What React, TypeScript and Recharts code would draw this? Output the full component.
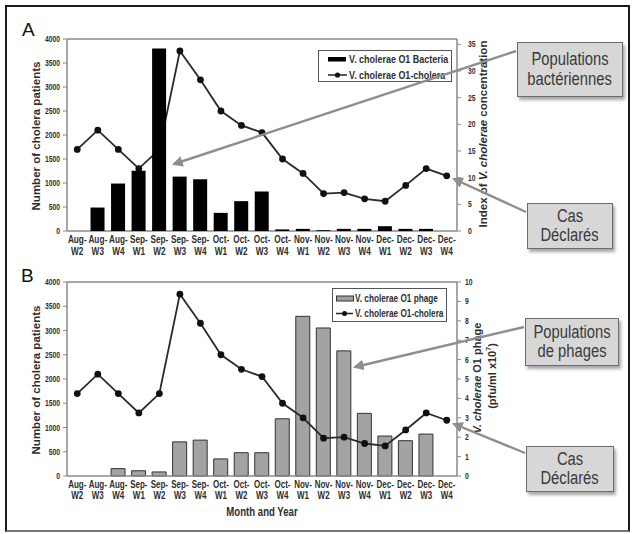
import React from 'react';
import { ComposedChart, Bar, Line, XAxis, YAxis, Legend, ReferenceLine, Label } from 'recharts';

const weeks = ['Aug-W2','Aug-W3','Aug-W4','Sep-W1','Sep-W2','Sep-W3','Sep-W4','Oct-W1','Oct-W2','Oct-W3','Oct-W4','Nov-W1','Nov-W2','Nov-W3','Nov-W4','Dec-W1','Dec-W2','Dec-W3','Dec-W4'];
const choleraPatients = [1700, 2100, 1700, 1300, 1700, 3750, 3150, 2500, 2200, 2050, 1500, 1200, 780, 800, 670, 620, 950, 1300, 1150];
const bacteriaIndex = [0, 4.4, 8.9, 11.3, 34.2, 10.2, 9.7, 3.4, 5.6, 7.4, 0.3, 0.4, 0.15, 0.4, 0.4, 0.9, 0.4, 0.4, 0];
const phageCount = [0, 0, 0.38, 0.27, 0.21, 1.76, 1.85, 0.88, 1.2, 1.2, 2.95, 8.23, 7.63, 6.45, 3.23, 2.06, 1.82, 2.16, 0];
const patientTicks = [0, 500, 1000, 1500, 2000, 2500, 3000, 3500, 4000];
const bacteriaTicks = [0, 5, 10, 15, 20, 25, 30, 35];
const phageTicks = [0, 1, 2, 3, 4, 5, 6, 7, 8, 9, 10];

const dataA = weeks.map((w, i) => ({ week: w, patients: choleraPatients[i], bacteria: bacteriaIndex[i] }));
const dataB = weeks.map((w, i) => ({ week: w, patients: choleraPatients[i], phage: phageCount[i] }));

const SANS = "'Liberation Sans', Arial, sans-serif";
const SX = 0.8;
const AXIS = '#8a8a8a';
const TXT = '#2e2e2e';

// horizontally condensed svg text
const NText = ({ x, y, anchor = 'start', fs, weight = 'bold', children }: any) => (
  <g transform={`translate(${x},${y}) scale(${SX},1)`}>
    <text x={0} y={0} textAnchor={anchor} fontSize={fs} fontWeight={weight} fill={TXT} fontFamily={SANS}>{children}</text>
  </g>
);

const makeCatTick = (d1: number, d2: number, fs: number) => (props: any) => {
  const { x, y, payload } = props;
  const [m, w] = String(payload.value).split('-');
  return (
    <g>
      <NText x={x} y={y + d1} anchor="middle" fs={fs}>{m}-</NText>
      <NText x={x} y={y + d1 + d2} anchor="middle" fs={fs}>{w}</NText>
    </g>
  );
};

const makeNumTick = (anchor: string) => (props: any) => {
  const { x, y, payload } = props;
  return <NText x={x} y={y + 3} anchor={anchor} fs={8.5}>{payload.value}</NText>;
};
const LeftNumTick = makeNumTick('end');
const RightNumTick = makeNumTick('start');

const Dot = (props: any) => {
  const { cx, cy } = props;
  if (cx == null || cy == null) return null;
  return <circle cx={cx} cy={cy} r={3.4} fill="#111" stroke="none" />;
};

const LeftLabel = (props: any) => {
  const vb = props.viewBox || {};
  const cx = 35.5;
  const cy = vb.y + vb.height / 2 + 1;
  return (
    <text x={cx} y={cy} transform={`rotate(-90 ${cx} ${cy})`} textAnchor="middle" dominantBaseline="central"
      fontSize={11.5} fontWeight="bold" fill={TXT} fontFamily={SANS}>Number of cholera patients</text>
  );
};

const RightLabelA = (props: any) => {
  const vb = props.viewBox || {};
  const cx = 482.5;
  const cy = vb.y + vb.height / 2 - 1;
  return (
    <text x={cx} y={cy} transform={`rotate(-90 ${cx} ${cy})`} textAnchor="middle" dominantBaseline="central"
      fontSize={11.5} fontWeight="bold" fill={TXT} fontFamily={SANS}>
      Index of <tspan fontStyle="italic">V. cholerae</tspan> concentration
    </text>
  );
};

const RightLabelB = (props: any) => {
  const vb = props.viewBox || {};
  const cy = vb.y + vb.height / 2 - 3;
  const x1 = 477, x2 = 491.5;
  return (
    <g>
      <text x={x1} y={cy + 2} transform={`rotate(-90 ${x1} ${cy + 2})`} textAnchor="middle" dominantBaseline="central"
        fontSize={11} fontWeight="bold" fill={TXT} fontFamily={SANS}>
        <tspan fontStyle="italic">V. cholerae</tspan> O1 phage
      </text>
      <text x={x2} y={cy} transform={`rotate(-90 ${x2} ${cy})`} textAnchor="middle" dominantBaseline="central"
        fontSize={11} fontWeight="bold" fill={TXT} fontFamily={SANS}>
        (pfu/ml x10<tspan dy={-4} fontSize={7}>7</tspan><tspan dy={4}>)</tspan>
      </text>
    </g>
  );
};

const XLabelB = (props: any) => {
  const vb = props.viewBox || {};
  const cx = vb.x + vb.width / 2;
  return <NText x={cx} y={251} anchor="middle" fs={12}>Month and Year</NText>;
};

const LegendA = () => (
  <svg width={134} height={32} style={{ display: 'block' }}>
    <rect x={0.5} y={0.5} width={133} height={31} fill="#fff" stroke="#555" />
    <rect x={10} y={7} width={18} height={4.5} fill="#000" />
    <NText x={31} y={12.8} fs={11.2}>V. cholerae O1 Bacteria</NText>
    <line x1={10} y1={25} x2={29} y2={25} stroke="#222" strokeWidth={1.5} />
    <circle cx={19.5} cy={25} r={2.6} fill="#111" />
    <NText x={31} y={28.8} fs={11.2}>V. cholerae O1-cholera</NText>
  </svg>
);

const LegendB = () => (
  <svg width={115} height={34} style={{ display: 'block' }}>
    <rect x={0.5} y={0.5} width={114} height={33} fill="#fff" stroke="#555" />
    <rect x={4.5} y={8} width={17} height={5} fill="#a0a0a0" stroke="#333" />
    <NText x={23} y={13.8} fs={10.3}>V. cholerae O1 phage</NText>
    <line x1={4} y1={25.5} x2={21} y2={25.5} stroke="#222" strokeWidth={1.5} />
    <circle cx={12.5} cy={25.5} r={2.5} fill="#111" />
    <NText x={23} y={29} fs={10.3}>V. cholerae O1-cholera</NText>
  </svg>
);

const calloutStyle = (left: number, top: number, width: number, height: number): React.CSSProperties => ({
  position: 'absolute', left, top, width, height, boxSizing: 'border-box',
  background: '#d7d7d7', border: '1.5px solid #6c6c6c', boxShadow: '2px 3px 3px rgba(0,0,0,0.35)',
  display: 'flex', flexDirection: 'column', alignItems: 'center', justifyContent: 'center',
  fontFamily: SANS, fontSize: 18, lineHeight: '19.5px', color: '#3a3a3a', textAlign: 'center', whiteSpace: 'nowrap',
});
const cLine: React.CSSProperties = { display: 'block', transform: `scaleX(${SX + 0.02})` };

const Arrow = ({ x1, y1, x2, y2 }: { x1: number; y1: number; x2: number; y2: number }) => (
  <line x1={x1} y1={y1} x2={x2} y2={y2} stroke="#8e8e8e" strokeWidth={2.4} markerEnd="url(#ah)" />
);

const marginA = { top: 39, right: 137, bottom: 0, left: 0 };

export default function App() {
  return (
    <div style={{ position: 'absolute', left: 0, top: 0, width: 634, height: 534, background: '#fff', overflow: 'hidden' }}>
      <div style={{ position: 'absolute', left: 5, top: 5, width: 625, height: 527, boxSizing: 'border-box', border: '2px solid #1a1a1a', borderBottomColor: '#777' }} />
      <div style={{ position: 'absolute', left: 22, top: 19, fontFamily: SANS, fontSize: 19, lineHeight: '22px', color: '#111' }}>A</div>
      <div style={{ position: 'absolute', left: 21, top: 265, fontFamily: SANS, fontSize: 19, lineHeight: '22px', color: '#111' }}>B</div>

      {/* Panel A: axes + line (line sits behind the bars) */}
      <div style={{ position: 'absolute', left: 0, top: 0 }}>
        <ComposedChart width={634} height={265} data={dataA} margin={marginA}>
          <XAxis dataKey="week" interval={0} tick={makeCatTick(12, 12.4, 10.3)} tickLine={false} tickSize={0} tickMargin={0}
            axisLine={{ stroke: AXIS, strokeWidth: 1.5 }} height={34} />
          <YAxis yAxisId="left" width={67} domain={[0, 4000]} ticks={patientTicks} interval={0} tick={LeftNumTick}
            tickSize={4} tickMargin={3} tickLine={{ stroke: AXIS }} axisLine={{ stroke: AXIS, strokeWidth: 1.5 }}>
            <Label content={<LeftLabel />} />
          </YAxis>
          <YAxis yAxisId="right" orientation="right" width={40} domain={[0, 36]} ticks={bacteriaTicks} interval={0} tick={RightNumTick}
            tickSize={4} tickMargin={7} tickLine={{ stroke: AXIS }} axisLine={{ stroke: AXIS, strokeWidth: 1.5 }}>
            <Label content={<RightLabelA />} />
          </YAxis>
          <ReferenceLine yAxisId="left" y={4000} stroke={AXIS} strokeWidth={1.5} />
          <Bar yAxisId="right" dataKey="bacteria" fill="transparent" barSize={14} isAnimationActive={false} legendType="none" />
          <Line yAxisId="left" dataKey="patients" stroke="#2a2a2a" strokeWidth={1.8} dot={<Dot />} isAnimationActive={false} />
        </ComposedChart>
      </div>
      {/* Panel A: bars drawn on top of the line, same plot geometry */}
      <div style={{ position: 'absolute', left: 0, top: 0 }}>
        <ComposedChart width={634} height={265} data={dataA} margin={marginA}>
          <XAxis dataKey="week" interval={0} tick={false} tickLine={false} axisLine={false} height={34} />
          <YAxis yAxisId="left" width={67} domain={[0, 4000]} tick={false} tickLine={false} axisLine={false} />
          <YAxis yAxisId="right" orientation="right" width={40} domain={[0, 36]} tick={false} tickLine={false} axisLine={false} />
          <Bar yAxisId="right" dataKey="bacteria" fill="#000" barSize={14} isAnimationActive={false} />
          <Line yAxisId="left" dataKey="patients" stroke="none" dot={false} activeDot={false} isAnimationActive={false} />
          <Legend layout="vertical" align="center" verticalAlign="middle" content={<LegendA />}
            wrapperStyle={{ position: 'absolute', left: 318, top: 50, width: 134, height: 32, right: 'auto', bottom: 'auto' }} />
        </ComposedChart>
      </div>

      <div style={{ position: 'absolute', left: 0, top: 265 }}>
        <ComposedChart width={634} height={269} data={dataB} margin={{ top: 17, right: 132, bottom: 0, left: 0 }}>
          <XAxis dataKey="week" interval={0} tick={makeCatTick(11.5, 11.3, 10)} tickLine={false} tickSize={0} tickMargin={0}
            axisLine={{ stroke: AXIS, strokeWidth: 1.5 }} height={58}>
            <Label content={<XLabelB />} />
          </XAxis>
          <YAxis yAxisId="left" width={67} domain={[0, 4000]} ticks={patientTicks} interval={0} tick={LeftNumTick}
            tickSize={4} tickMargin={3} tickLine={{ stroke: AXIS }} axisLine={{ stroke: AXIS, strokeWidth: 1.5 }}>
            <Label content={<LeftLabel />} />
          </YAxis>
          <YAxis yAxisId="right" orientation="right" width={45} domain={[0, 10]} ticks={phageTicks} interval={0} tick={RightNumTick}
            tickSize={4} tickMargin={4} tickLine={{ stroke: AXIS }} axisLine={{ stroke: AXIS, strokeWidth: 1.5 }}>
            <Label content={<RightLabelB />} />
          </YAxis>
          <ReferenceLine yAxisId="left" y={4000} stroke={AXIS} strokeWidth={1.5} />
          <Bar yAxisId="right" dataKey="phage" fill="#a3a3a3" stroke="#333" strokeWidth={1} barSize={14} isAnimationActive={false} />
          <Line yAxisId="left" dataKey="patients" stroke="#2a2a2a" strokeWidth={1.8} dot={<Dot />} isAnimationActive={false} />
          <Legend layout="vertical" align="center" verticalAlign="middle" content={<LegendB />}
            wrapperStyle={{ position: 'absolute', left: 332, top: 23, width: 115, height: 34, right: 'auto', bottom: 'auto' }} />
        </ComposedChart>
      </div>

      <div style={calloutStyle(517, 42, 106, 55)}><span style={cLine}>Populations</span><span style={cLine}>bactériennes</span></div>
      <div style={calloutStyle(527, 203, 86, 46)}><span style={cLine}>Cas</span><span style={cLine}>Déclarés</span></div>
      <div style={calloutStyle(525, 318, 94, 48)}><span style={cLine}>Populations</span><span style={cLine}>de phages</span></div>
      <div style={calloutStyle(526, 446, 88, 46)}><span style={cLine}>Cas</span><span style={cLine}>Déclarés</span></div>

      <svg width={634} height={534} style={{ position: 'absolute', left: 0, top: 0, pointerEvents: 'none' }}>
        <defs>
          <marker id="ah" viewBox="0 0 10 10" refX="8" refY="5" markerWidth="4.5" markerHeight="4.5" orient="auto" markerUnits="strokeWidth">
            <path d="M0,0 L10,5 L0,10 z" fill="#8e8e8e" />
          </marker>
        </defs>
        <Arrow x1={516} y1={51} x2={174} y2={164} />
        <Arrow x1={526} y1={212} x2={454} y2={179} />
        <Arrow x1={524} y1={327} x2={355} y2={367} />
        <Arrow x1={525} y1={453} x2={454} y2={424} />
      </svg>
    </div>
  );
}
